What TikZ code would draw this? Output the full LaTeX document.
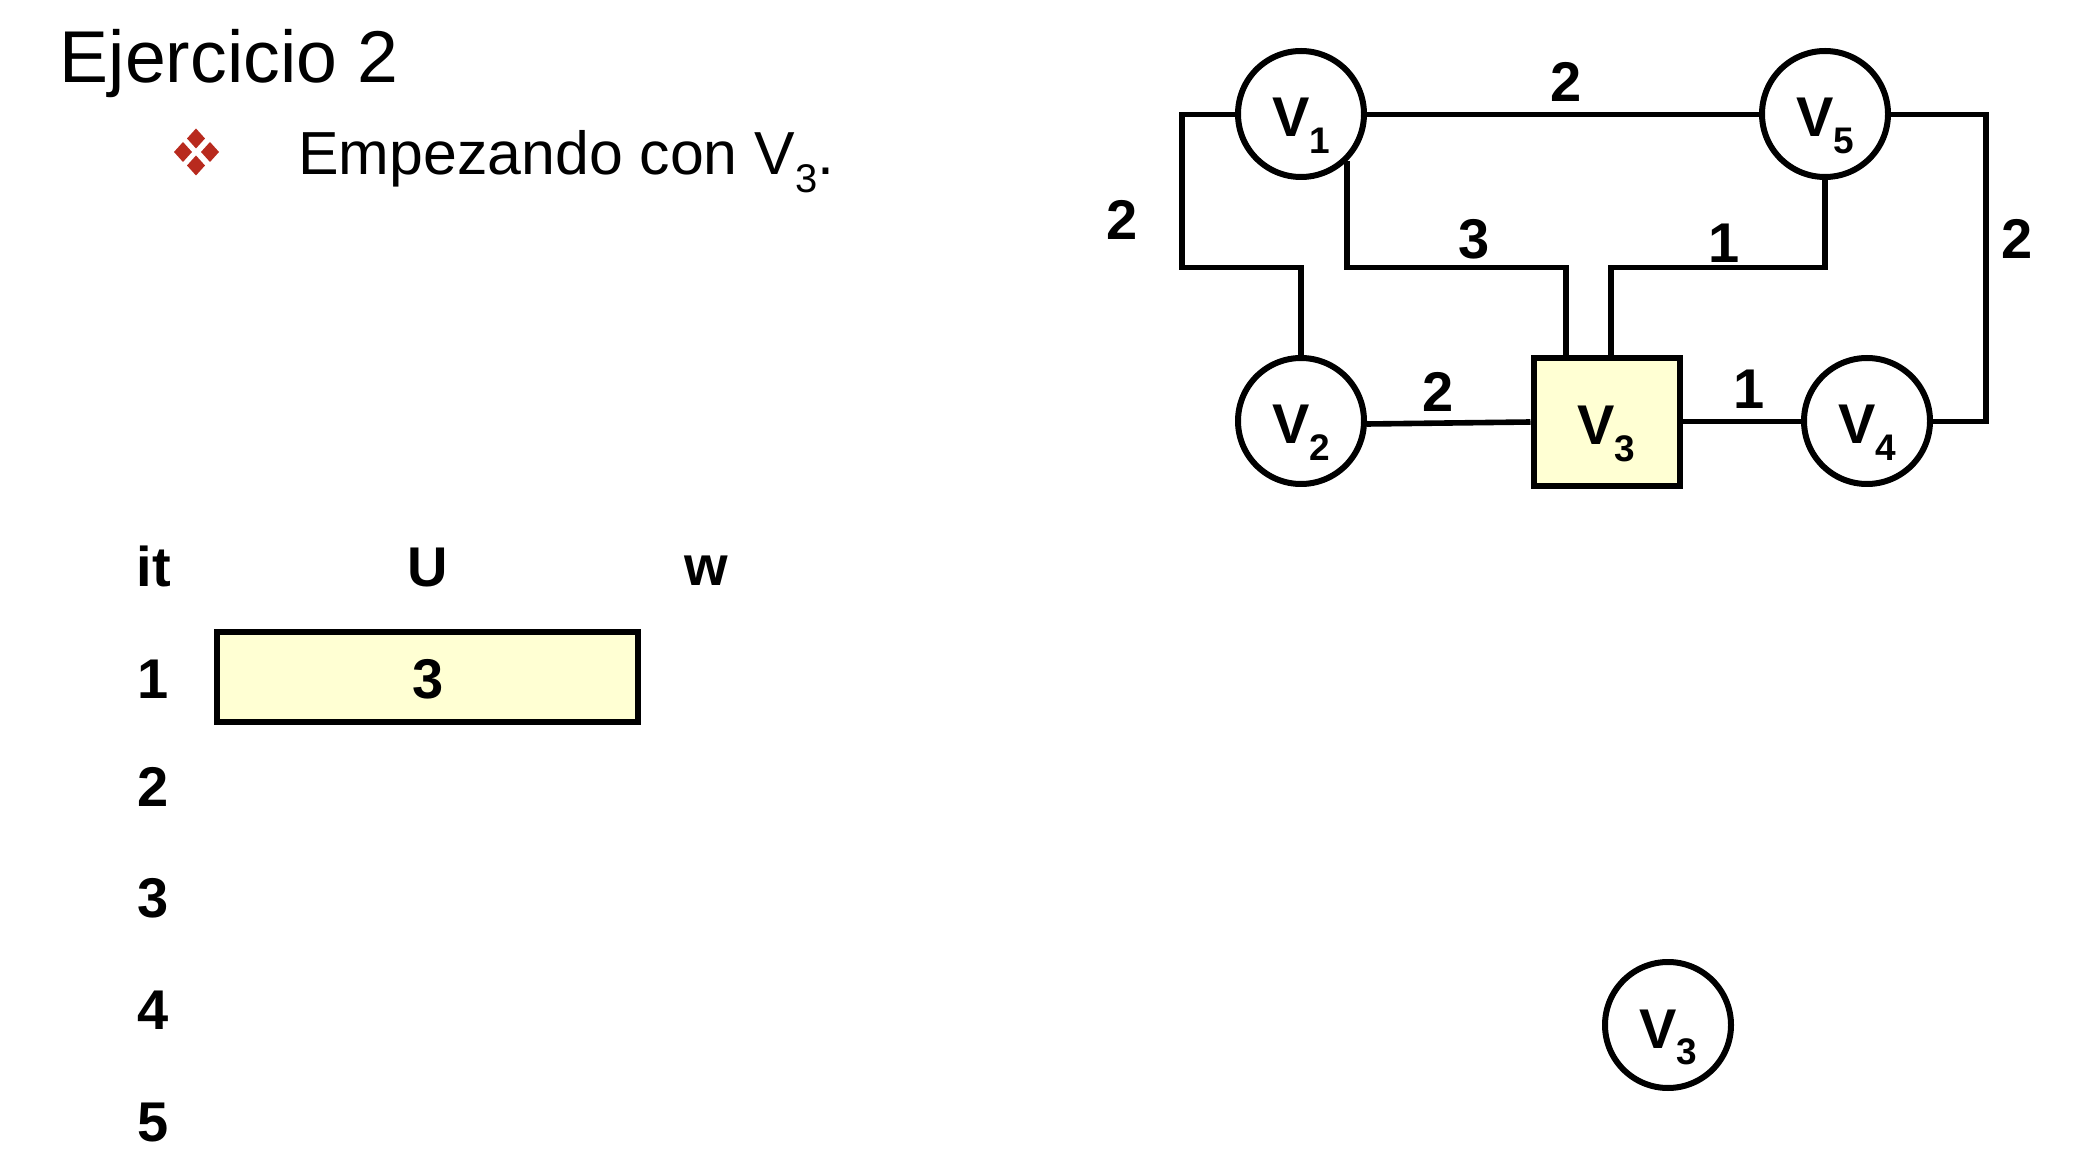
\documentclass[tikz,border=0pt]{standalone}
\usepackage{fontspec}
\setmainfont{Liberation Sans}
\definecolor{fondo}{HTML}{FFFFD3}
\definecolor{rojo}{HTML}{B82A1E}
\newcommand{\Vsub}[1]{V\raisebox{-0.3em}[0pt][0pt]{\fontsize{18.5}{20}\selectfont #1}}
\tikzset{
	etiq/.style={font=\fontsize{28}{30}\selectfont\bfseries,inner sep=0pt},
	vert/.style={etiq,circle,draw,fill=white,line width=3pt,minimum size=63pt,text height=23pt,text depth=0pt},
	marca/.style={etiq,rectangle,draw,fill=fondo,line width=3pt,text height=23pt,text depth=0pt},
	arista/.style={line width=2.8pt,line join=miter},
	rombo/.style={fill=rojo}
}
\begin{document}
\begin{tikzpicture}[x=0.5pt,y=-0.5pt]
	\useasboundingbox (0,0) rectangle (2090,1176);
	%Titulo
	\node (titulo) [anchor=base west,inner sep=0pt,font=\fontsize{36.7}{40}\selectfont] at (59.5,83) {Ejercicio 2};
	\node (linea) [anchor=base west,inner sep=0pt,font=\fontsize{30.4}{34}\selectfont] at (298,174.5)
	{Empezando con V\raisebox{-0.3em}{\fontsize{20}{22}\selectfont 3}.};
	\foreach \x/\y in {196/138.5,183/152,210/152,196/165.5}
	\fill[rombo] (\x,\y-10) -- (\x+9,\y) -- (\x,\y+10) -- (\x-9,\y) -- cycle;
	%Tabla
	\node (it) [etiq,anchor=base] at (154,587) {it};
	\node (U) [etiq,anchor=base] at (428,587) {U};
	\node (w) [etiq,anchor=base] at (706,586) {w};
	\foreach \n/\y in {1/679,2/787,3/898,4/1010,5/1123}
	\node (f\n) [etiq] at (153,\y) {\n};
	\node (celda) [marca,minimum width=210.5pt,minimum height=44.5pt] at (427.5,677) {};
	\node (tres) [etiq] at (428,679) {3};
	%Grafo
	\node (v1) [vert] at (1301,114) {\Vsub{1}};
	\node (v5) [vert] at (1825,114) {\Vsub{5}};
	\node (v2) [vert] at (1301,421) {\Vsub{2}};
	\node (v4) [vert] at (1867,421) {\Vsub{4}};
	\node (v3) [marca,minimum width=73pt,minimum height=64pt] at (1606.5,422) {\Vsub{3}};
	\node (solo) [vert] at (1668,1025) {\Vsub{3}};
	\path
	(1182,114.5) coordinate (a)
	(1182,267.5) coordinate (b)
	(1566,267.5) coordinate (c)
	(1611,267.5) coordinate (d)
	(1986,114.5) coordinate (e)
	(1986,421.5) coordinate (f);
	\draw[arista] (v1.east |- a) -- (v5.west |- a);
	\draw[arista] (v1.west |- a) -- (a) -- (b) -| (v2.north);
	\draw[arista] (v1.-46) |- (c) -- (c |- v3.north);
	\draw[arista] (v5.south) |- (d) -- (d |- v3.north);
	\draw[arista] (v5.east |- e) -- (e) -- (f) -- (v4.east |- f);
	\draw[arista] (v2.east |- 0,424) -- (v3.west);
	\draw[arista] (v3.east |- f) -- (v4.west |- f);
	\foreach \x/\y/\t/\m in {1566/82/2/p,1122/220/2/q,1474/239/3/r,1724/243/1/s,2017/239/2/t,1438/392/2/u,1749/389/1/z}
	\node (n\m) [etiq] at (\x,\y) {\t};
\end{tikzpicture}
\end{document}
